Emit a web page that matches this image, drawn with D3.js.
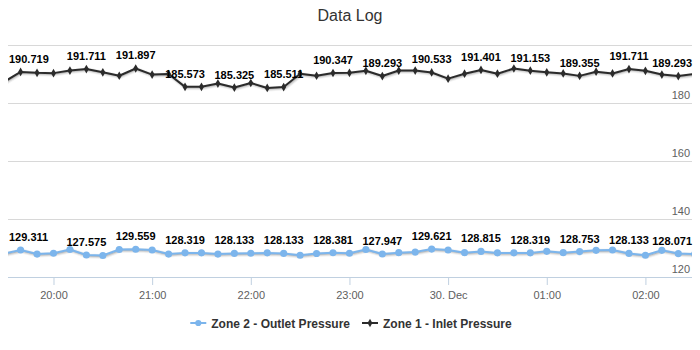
<!DOCTYPE html>
<html><head><meta charset="utf-8">
<script src="https://cdn.jsdelivr.net/npm/d3@7"></script>
<style>body{margin:0;background:#fff}svg{display:block}</style>
</head><body><svg id="chart" width="700" height="350"></svg>
<script>
const title = "Data Log";
const times = [
 "2013-12-29T19:30","2013-12-29T19:40","2013-12-29T19:50","2013-12-29T20:00","2013-12-29T20:10","2013-12-29T20:20",
 "2013-12-29T20:30","2013-12-29T20:40","2013-12-29T20:50","2013-12-29T21:00","2013-12-29T21:10","2013-12-29T21:20",
 "2013-12-29T21:30","2013-12-29T21:40","2013-12-29T21:50","2013-12-29T22:00","2013-12-29T22:10","2013-12-29T22:20",
 "2013-12-29T22:30","2013-12-29T22:40","2013-12-29T22:50","2013-12-29T23:00","2013-12-29T23:10","2013-12-29T23:20",
 "2013-12-29T23:30","2013-12-29T23:40","2013-12-29T23:50","2013-12-30T00:00","2013-12-30T00:10","2013-12-30T00:20",
 "2013-12-30T00:30","2013-12-30T00:40","2013-12-30T00:50","2013-12-30T01:00","2013-12-30T01:10","2013-12-30T01:20",
 "2013-12-30T01:30","2013-12-30T01:40","2013-12-30T01:50","2013-12-30T02:00","2013-12-30T02:10","2013-12-30T02:20",
 "2013-12-30T02:30"];
const inletPressure = [
 187.3,190.719,190.4,190.3,191.2,191.711,190.6,189.4,191.897,189.8,190.0,185.573,
 185.6,186.7,185.325,186.9,185.2,185.511,190.1,189.4,190.347,190.4,191.1,189.293,
 191.2,191.2,190.533,188.4,190.1,191.401,190.1,191.9,191.153,190.6,190.2,189.355,
 190.8,190.2,191.711,191.1,189.8,189.293,190.0];
const outletPressure = [
 128.1,129.311,127.9,128.2,129.5,127.575,127.4,129.5,129.559,129.3,127.9,128.319,
 128.3,127.9,128.133,128.2,128.3,128.133,127.5,128.1,128.381,128.2,129.5,127.947,
 128.4,128.6,129.621,129.3,128.4,128.815,128.3,128.3,128.319,128.85,128.4,128.753,
 129.2,129.3,128.133,127.5,129.2,128.071,127.9];
const labelIndices = [1,5,8,11,14,17,20,23,26,29,32,35,38,41];
const yTicks = [120,140,160,180,200];
const yLabelTicks = [120,140,160,180];
const xTicks = ["2013-12-29T20:00","2013-12-29T21:00","2013-12-29T22:00","2013-12-29T23:00","2013-12-30T00:00","2013-12-30T01:00","2013-12-30T02:00"];
const xDomain = ["2013-12-29T19:32:20","2013-12-30T02:28:20"];
const seriesNames = ["Zone 2 - Outlet Pressure","Zone 1 - Inlet Pressure"];
const seriesColors = ["#7cb5ec","#2b2b2b"];

(function(){
const parse = d3.isoParse;
const W = 700, H = 350;
const pL = 8, pR = 692, pT = 45, pB = 277;
const font = "'Liberation Sans', Arial, sans-serif";

const svg = d3.select("#chart");
const x = d3.scaleTime().domain(xDomain.map(parse)).range([pL, pR]);
const y = d3.scaleLinear().domain([120, 200]).range([pB, pT]);

svg.append("text").attr("x", W/2).attr("y", 21).attr("text-anchor","middle")
  .attr("font-family", font).attr("font-size", 16).attr("fill","#333").text(title);

// grid
const yAxis = d3.axisRight(y).tickValues(yTicks).tickSize(pR-pL).tickFormat("");
const gy = svg.append("g").attr("transform",`translate(${pL},0)`).call(yAxis);
gy.select(".domain").remove();
gy.selectAll("line").attr("stroke","#d8d8d8");
svg.append("g").selectAll("text").data(yLabelTicks).join("text")
  .attr("x", pR-2).attr("y", d => y(d)-4).attr("text-anchor","end")
  .attr("font-family", font).attr("font-size", 11).attr("fill","#606060").text(d=>d);

// x axis
const fmt = d => (d.getHours()===0 && d.getMinutes()===0) ? d3.timeFormat("%-d. %b")(d) : d3.timeFormat("%H:%M")(d);
const xAxis = d3.axisBottom(x).tickValues(xTicks.map(parse)).tickSize(8).tickPadding(6).tickFormat(fmt);
const gx = svg.append("g").attr("transform",`translate(0,${pB})`).call(xAxis);
gx.select(".domain").attr("stroke","#c0d0e0").attr("d",`M${pL},0.5H${pR}`);
gx.selectAll("line").attr("stroke","#c0d0e0");
gx.selectAll("text").attr("font-family", font).attr("font-size", 11).attr("fill","#606060");

// clip
svg.append("clipPath").attr("id","clip").append("rect")
  .attr("x", pL).attr("y", pT-20).attr("width", pR-pL).attr("height", pB-pT+30);

const series = [
  {name: seriesNames[0], values: outletPressure, color: seriesColors[0], marker: "circle"},
  {name: seriesNames[1], values: inletPressure, color: seriesColors[1], marker: "diamond"}
];
const line = d3.line().x((d,i)=>x(parse(times[i]))).y(d=>y(d));
const plot = svg.append("g").attr("clip-path","url(#clip)");

series.forEach(s => {
  const g = plot.append("g");
  [[5,0.05],[3,0.1],[1,0.15]].forEach(([w,o]) => {
    g.append("path").attr("d", line(s.values)).attr("fill","none")
      .attr("stroke","#000").attr("stroke-opacity",o).attr("stroke-width",w)
      .attr("transform","translate(1,1)").attr("stroke-linejoin","round");
  });
  g.append("path").attr("d", line(s.values)).attr("fill","none")
    .attr("stroke", s.color).attr("stroke-width", 2).attr("stroke-linejoin","round");
  const sym = s.marker === "circle" ? d3.symbol(d3.symbolCircle, 40) : d3.symbol(d3.symbolDiamond, 22);
  g.selectAll("path.m").data(s.values).join("path").attr("class","m")
    .attr("transform",(d,i)=>`translate(${x(parse(times[i]))},${y(d)})`)
    .attr("d", sym).attr("fill", s.color);
});

// data labels
series.forEach(s => {
  const g = svg.append("g");
  labelIndices.forEach(i => {
    const cx = x(parse(times[i]));
    const t = g.append("text").attr("x", cx).attr("y", y(s.values[i]) - 9)
      .attr("text-anchor","middle").attr("font-family", font).attr("font-size", 11)
      .attr("font-weight","bold").attr("fill","#000").text(s.values[i].toFixed(3));
    const w = t.node().getComputedTextLength();
    const nx = Math.max(pL + 1 + w/2, Math.min(pR - w/2, cx));
    t.attr("x", nx);
  });
});

// legend
const lg = svg.append("g");
const items = series.map(s => {
  const g = lg.append("g");
  g.append("line").attr("x1",0).attr("x2",16).attr("y1",0).attr("y2",0)
    .attr("stroke", s.color).attr("stroke-width",2);
  const sym = s.marker === "circle" ? d3.symbol(d3.symbolCircle, 30) : d3.symbol(d3.symbolDiamond, 20);
  g.append("path").attr("transform","translate(8,0)").attr("d", sym).attr("fill", s.color);
  const t = g.append("text").attr("x", 21).attr("y", 4.5).attr("font-family", font)
    .attr("font-size", 12).attr("font-weight","bold").attr("fill","#333").text(s.name);
  return {g, w: 21 + t.node().getComputedTextLength()};
});
const gap = 12;
const total = items.reduce((a,b)=>a+b.w,0) + gap*(items.length-1);
let lx = W/2 - total/2 + 1;
items.forEach(it => { it.g.attr("transform",`translate(${lx},323)`); lx += it.w + gap; });
})();
</script>
</body></html>
